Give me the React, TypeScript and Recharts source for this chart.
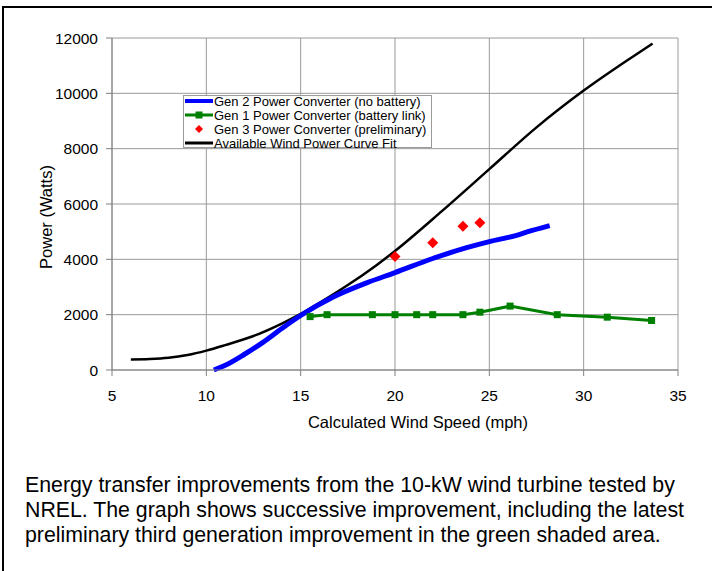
import React from "react";
import {
  ComposedChart,
  Line,
  Scatter,
  XAxis,
  YAxis,
  CartesianGrid,
  Legend,
} from "recharts";

const FONT = "'Liberation Sans', Arial, sans-serif";

// axis ticks
const xTicks = [5, 10, 15, 20, 25, 30, 35];
const yTicks = [0, 2000, 4000, 6000, 8000, 10000, 12000];

// Gen 2 Power Converter (no battery)
const gen2Speed = [10.4, 11, 12, 13, 14, 15, 16.7, 18.5, 20, 22, 23.8, 25, 26.4, 27, 28.2];
const gen2Power = [0, 170, 560, 1000, 1500, 1970, 2630, 3150, 3520, 4030, 4420, 4640, 4860, 4990, 5220];

// Gen 1 Power Converter (battery link)
const gen1Speed = [15.5, 16.4, 18.8, 20, 21.15, 22, 23.6, 24.5, 26.1, 28.6, 31.25, 33.6];
const gen1Power = [1930, 2000, 2000, 2000, 2000, 2000, 2000, 2090, 2310, 2000, 1910, 1790];

// Gen 3 Power Converter (preliminary)
const gen3Speed = [20, 22, 23.6, 24.5];
const gen3Power = [4100, 4600, 5200, 5320];

// Available Wind Power Curve Fit
const windSpeed = [6, 7, 8, 9, 10, 11, 12.5, 14, 15, 16, 17.5, 19, 20, 22.5, 25, 27.5, 30, 32.5, 33.65];
const windPower = [380, 395, 440, 540, 700, 900, 1230, 1680, 2030, 2430, 3070, 3780, 4300, 5750, 7260, 8770, 10100, 11280, 11800];

const toPoints = (xs: number[], ys: number[]) =>
  xs.map((speed, i) => ({ speed, power: ys[i] }));

const gen2 = toPoints(gen2Speed, gen2Power);
const gen1 = toPoints(gen1Speed, gen1Power);
const gen3 = toPoints(gen3Speed, gen3Power);
const wind = toPoints(windSpeed, windPower);

const BLUE = "#0000ff";
const GREEN = "#008000";
const RED = "#ff0000";

const legendRows = [
  { name: "Gen 2 Power Converter (no battery)", kind: "line", color: BLUE },
  { name: "Gen 1 Power Converter (battery link)", kind: "square", color: GREEN },
  { name: "Gen 3 Power Converter (preliminary)", kind: "diamond", color: RED },
  { name: "Available Wind Power Curve Fit", kind: "line", color: "#000" },
];

function SquareDot(props: any) {
  const { cx, cy, index } = props;
  if (cx == null || cy == null) return null;
  return <rect key={index} x={cx - 3.5} y={cy - 3.5} width={7} height={7} fill={GREEN} />;
}

function Diamond(props: any) {
  const { cx, cy } = props;
  const r = 5.5;
  return (
    <polygon
      points={`${cx},${cy - r} ${cx + r},${cy} ${cx},${cy + r} ${cx - r},${cy}`}
      fill={RED}
    />
  );
}

function LegendBox() {
  return (
    <div
      style={{
        width: 247,
        height: 51,
        border: "1px solid #9a9a9a",
        background: "#fff",
        fontFamily: FONT,
        fontSize: 13,
        color: "#000",
        boxSizing: "content-box",
        textAlign: "left",
      }}
    >
      <div style={{ marginTop: -2 }}>
        {legendRows.map((row) => (
          <div key={row.name} style={{ display: "flex", alignItems: "center", height: 14, whiteSpace: "nowrap" }}>
            <svg width={30} height={14} style={{ flex: "none" }}>
              {row.kind !== "diamond" && (
                <line x1={1} x2={29} y1={7} y2={7} stroke={row.color} strokeWidth={row.kind === "line" && row.color === BLUE ? 4 : 3} />
              )}
              {row.kind === "square" && <rect x={11.5} y={3.5} width={7} height={7} fill={row.color} />}
              {row.kind === "diamond" && <polygon points="15,3 19,7 15,11 11,7" fill={row.color} />}
            </svg>
            <span>{row.name}</span>
          </div>
        ))}
      </div>
    </div>
  );
}

function YTitle(props: any) {
  const vb = props.viewBox || { x: 0 };
  const x = vb.x + 46;
  const y = 217;
  return (
    <text x={x} y={y} transform={`rotate(-90 ${x} ${y})`} textAnchor="middle" dominantBaseline="central" fontSize={16.5} fontFamily={FONT} fill="#000">
      Power (Watts)
    </text>
  );
}

function XTitle(props: any) {
  const vb = props.viewBox || { y: 370 };
  return (
    <text x={418} y={vb.y + 52} textAnchor="middle" dominantBaseline="central" fontSize={16.5} fontFamily={FONT} fill="#000">
      Calculated Wind Speed (mph)
    </text>
  );
}

export default function App() {
  return (
    <div style={{ position: "absolute", left: 0, top: 0, width: 712, height: 571, overflow: "hidden", background: "#fff" }}>
      <div
        style={{
          position: "absolute",
          left: 2,
          top: 6,
          width: 720,
          height: 580,
          borderLeft: "2px solid #000",
          borderTop: "2px solid #000",
        }}
      />
      <div style={{ position: "absolute", left: 0, top: 0 }}>
        <ComposedChart width={712} height={440} margin={{ top: 38, right: 34, bottom: 20, left: 0 }}>
          <CartesianGrid stroke="#9a9a9a" strokeWidth={1} />
          <XAxis
            type="number"
            dataKey="speed"
            domain={[5, 35]}
            ticks={xTicks}
            interval={0}
            height={50}
            tickSize={6}
            tickMargin={14}
            axisLine={{ stroke: "#808080" }}
            tickLine={{ stroke: "#808080" }}
            tick={{ fill: "#000", fontSize: 15.5, fontFamily: FONT }}
            label={<XTitle />}
          />
          <YAxis
            type="number"
            domain={[0, 12000]}
            ticks={yTicks}
            interval={0}
            width={112}
            tickSize={6}
            tickMargin={8}
            axisLine={{ stroke: "#808080" }}
            tickLine={{ stroke: "#808080" }}
            tick={{ fill: "#000", fontSize: 15.5, fontFamily: FONT }}
            label={<YTitle />}
          />
          <Legend
            layout="vertical"
            align="center"
            verticalAlign="middle"
            content={<LegendBox />}
            wrapperStyle={{ position: "absolute", left: 183, top: 95, width: "auto", height: "auto" }}
          />
          <Line
            data={wind}
            dataKey="power"
            name="Available Wind Power Curve Fit"
            type="monotone"
            stroke="#000"
            strokeWidth={2.5}
            dot={false}
            activeDot={false}
            isAnimationActive={false}
          />
          <Line
            data={gen2}
            dataKey="power"
            name="Gen 2 Power Converter (no battery)"
            type="monotone"
            stroke={BLUE}
            strokeWidth={5}
            dot={false}
            activeDot={false}
            isAnimationActive={false}
          />
          <Line
            data={gen1}
            dataKey="power"
            name="Gen 1 Power Converter (battery link)"
            type="linear"
            stroke={GREEN}
            strokeWidth={3}
            dot={<SquareDot />}
            activeDot={false}
            isAnimationActive={false}
          />
          <Scatter
            data={gen3}
            dataKey="power"
            name="Gen 3 Power Converter (preliminary)"
            fill={RED}
            shape={<Diamond />}
            isAnimationActive={false}
          />
        </ComposedChart>
      </div>
      <div
        style={{
          position: "absolute",
          left: 25,
          top: 473,
          fontFamily: FONT,
          fontSize: 21.3,
          lineHeight: "25px",
          color: "#000",
          whiteSpace: "nowrap",
        }}
      >
        Energy transfer improvements from the 10-kW wind turbine tested by
        <br />
        NREL. The graph shows successive improvement, including the latest
        <br />
        preliminary third generation improvement in the green shaded area.
      </div>
    </div>
  );
}
